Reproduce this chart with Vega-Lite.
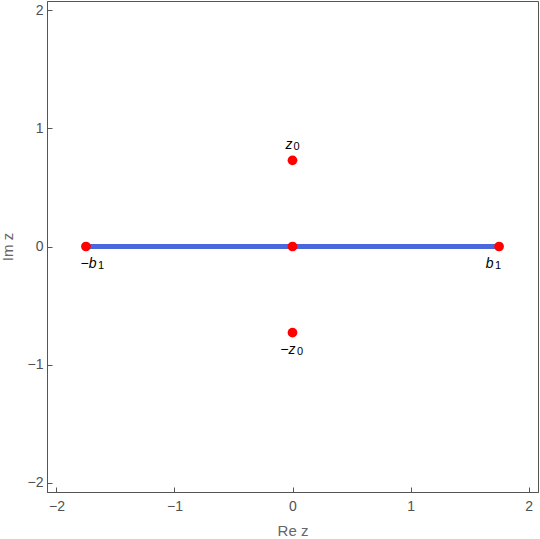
{
  "$schema": "https://vega.github.io/schema/vega-lite/v6.json",
  "width": 491,
  "height": 491,
  "autosize": {"type": "none"},
  "padding": {"left": 47, "top": 1, "right": 2, "bottom": 47},
  "background": "white",
  "config": {
    "view": {"stroke": "#555555", "strokeWidth": 1},
    "axis": {
      "grid": false,
      "domainColor": "#555555",
      "tickColor": "#555555",
      "tickSize": -5,
      "labelColor": "#505050",
      "labelFont": "Liberation Sans",
      "labelFontSize": 14,
      "titleFont": "Liberation Sans",
      "titleFontSize": 15,
      "titleFontWeight": "normal",
      "titleColor": "#666666"
    }
  },
  "datasets": {
    "segment": [{"re": -1.75, "im": 0}, {"re": 1.75, "im": 0}],
    "points": [
      {"re": -1.75, "im": 0, "main": "−b", "sub": "1"},
      {"re": 1.75, "im": 0, "main": "b", "sub": "1"},
      {"re": 0, "im": 0.73, "main": "z", "sub": "0"},
      {"re": 0, "im": -0.73, "main": "−z", "sub": "0"},
      {"re": 0, "im": 0, "main": "", "sub": ""}
    ]
  },
  "encoding": {
    "x": {"field": "re", "type": "quantitative", "scale": {"domain": [-2.08, 2.08], "nice": false, "zero": false},
      "axis": {"values": [-2, -1, 0, 1, 2], "format": "d", "title": "Re z", "labelPadding": 12, "titlePadding": 10}},
    "y": {"field": "im", "type": "quantitative", "scale": {"domain": [-2.08, 2.08], "nice": false, "zero": false},
      "axis": {"values": [-2, -1, 0, 1, 2], "format": "d", "title": "Im z", "labelPadding": 9, "titlePadding": 12}}
  },
  "layer": [
    {
      "data": {"name": "segment"},
      "mark": {"type": "line", "color": "#4a67dc", "strokeWidth": 5}
    },
    {
      "data": {"name": "points"},
      "mark": {"type": "circle", "color": "#ff0000", "opacity": 1, "size": 95}
    },
    {
      "data": {"name": "points"},
      "transform": [{"filter": "datum.main === 'z'"}],
      "mark": {"type": "text", "dx": 0, "dy": -11, "fontSize": 14, "font": "Liberation Sans", "fontStyle": "italic", "color": "black", "baseline": "alphabetic", "align": "right"},
      "encoding": {"text": {"field": "main"}}
    },
    {
      "data": {"name": "points"},
      "transform": [{"filter": "datum.main === 'z'"}],
      "mark": {"type": "text", "dx": 1, "dy": -10, "fontSize": 11, "font": "Liberation Sans", "color": "black", "baseline": "alphabetic", "align": "left"},
      "encoding": {"text": {"field": "sub"}}
    },
    {
      "data": {"name": "points"},
      "transform": [{"filter": "datum.main === '−z'"}],
      "mark": {"type": "text", "dx": 3, "dy": 21, "fontSize": 14, "font": "Liberation Sans", "fontStyle": "italic", "color": "black", "baseline": "alphabetic", "align": "right"},
      "encoding": {"text": {"field": "main"}}
    },
    {
      "data": {"name": "points"},
      "transform": [{"filter": "datum.main === '−z'"}],
      "mark": {"type": "text", "dx": 4.5, "dy": 22, "fontSize": 11, "font": "Liberation Sans", "color": "black", "baseline": "alphabetic", "align": "left"},
      "encoding": {"text": {"field": "sub"}}
    },
    {
      "data": {"name": "points"},
      "transform": [{"filter": "datum.main === '−b'"}],
      "mark": {"type": "text", "dx": 10.5, "dy": 21, "fontSize": 14, "font": "Liberation Sans", "fontStyle": "italic", "color": "black", "baseline": "alphabetic", "align": "right"},
      "encoding": {"text": {"field": "main"}}
    },
    {
      "data": {"name": "points"},
      "transform": [{"filter": "datum.main === '−b'"}],
      "mark": {"type": "text", "dx": 12, "dy": 22, "fontSize": 11, "font": "Liberation Sans", "color": "black", "baseline": "alphabetic", "align": "left"},
      "encoding": {"text": {"field": "sub"}}
    },
    {
      "data": {"name": "points"},
      "transform": [{"filter": "datum.main === 'b'"}],
      "mark": {"type": "text", "dx": -5.5, "dy": 21, "fontSize": 14, "font": "Liberation Sans", "fontStyle": "italic", "color": "black", "baseline": "alphabetic", "align": "right"},
      "encoding": {"text": {"field": "main"}}
    },
    {
      "data": {"name": "points"},
      "transform": [{"filter": "datum.main === 'b'"}],
      "mark": {"type": "text", "dx": -4, "dy": 22, "fontSize": 11, "font": "Liberation Sans", "color": "black", "baseline": "alphabetic", "align": "left"},
      "encoding": {"text": {"field": "sub"}}
    }
  ]
}
